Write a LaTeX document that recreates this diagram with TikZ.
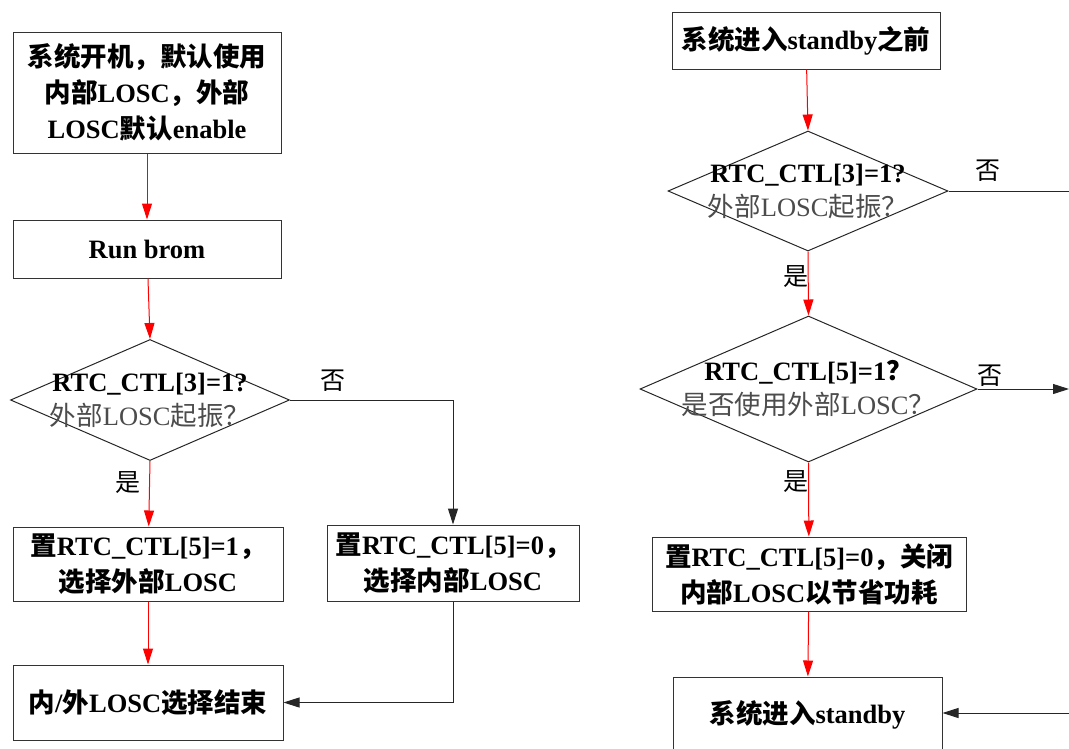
\documentclass[tikz,border=0pt]{standalone}
\usepackage{fontspec}
\setmainfont{Liberation Serif}
\newfontfamily\cjk{Noto Sans CJK SC}
\usetikzlibrary{shapes.geometric,arrows.meta,positioning}
\newcommand{\zh}[1]{{\cjk #1}}

\tikzset{
  box/.style={draw=black!80, line width=1pt, inner sep=0pt, align=center,
    font=\bfseries\fontsize{26.5}{36}\selectfont},
  dia/.style={diamond, draw=black!85, line width=1pt, inner sep=0pt},
  diatext/.style={align=center, inner sep=0pt, font=\fontsize{26.5}{34}\selectfont},
  yes/.style={draw=red, line width=1pt, -{Triangle[length=16pt,width=10pt]}},
  no/.style={draw=black!85, line width=1pt, -{Triangle[length=16pt,width=10pt]}},
  lbl/.style={font=\fontsize{25}{28}\selectfont\cjk, inner sep=0pt}
}

\begin{document}
\begin{tikzpicture}[x=1pt,y=-1pt]
\useasboundingbox (0,0) rectangle (1069,748);
\clip (0,0) rectangle (1069,748);

% left flow: power on, choose LOSC
\node[box, minimum width=268pt, minimum height=121pt] (boot) at (147,92.5)
  {\zh{系统开机，默认使用}\\ \zh{内部}LOSC\zh{，外部}\\ LOSC\zh{默认}enable};
\node[box, minimum width=268pt, minimum height=58pt] (brom) at (147,249) {Run brom};
\node[dia, minimum width=279pt, minimum height=121pt] (chkA) at (150,400) {};
\node[diatext] (chkAtxt) at (chkA.center)
  {\textbf{RTC\_CTL[3]=1?}\\ \color{black!70}\zh{外部}LOSC\zh{起振？}};
\node[box, minimum width=270pt, minimum height=74pt] (setext) at (148,564)
  {\zh{置}RTC\_CTL[5]=1\zh{，}\\ \zh{选择外部}LOSC};
\node[box, minimum width=252pt, minimum height=76pt] (setint) at (453,563)
  {\zh{置}RTC\_CTL[5]=0\zh{，}\\ \zh{选择内部}LOSC};
\node[box, minimum width=270pt, minimum height=75pt] (done) at (148,702.5)
  {\zh{内}/\zh{外}LOSC\zh{选择结束}};

\node[lbl] (noA) at (333,381) {否};
\node[lbl] (yesA) at (128,483) {是};

\draw[yes] (boot) -- (brom);
\draw[yes] (brom) -- (chkA.north);
\draw[yes] (chkA.south) -- (setext);
\draw[no] (chkA.east) -| (setint);
\draw[yes] (setext) -- (done);
\draw[no] (setint) |- (done);

% right flow: before standby
\node[box, minimum width=268pt, minimum height=57pt] (pre) at (806,40.5)
  {\zh{系统进入}standby\zh{之前}};
\node[dia, minimum width=280pt, minimum height=120pt] (chkB) at (808,191) {};
\node[diatext] (chkBtxt) at (chkB.center)
  {\textbf{RTC\_CTL[3]=1?}\\ \color{black!70}\zh{外部}LOSC\zh{起振？}};
\node[dia, minimum width=337pt, minimum height=146pt] (chkC) at (808.5,389) {};
\node[diatext] (chkCtxt) at (chkC.center)
  {\textbf{RTC\_CTL[5]=1\zh{？}}\\ \color{black!70}\zh{是否使用外部}LOSC\zh{？}};
\node[box, minimum width=314pt, minimum height=74pt] (offint) at (809,574)
  {\zh{置}RTC\_CTL[5]=0\zh{，关闭}\\ \zh{内部}LOSC\zh{以节省功耗}};
\node[box, minimum width=269pt, minimum height=75pt] (stby) at (807.5,714.5)
  {\zh{系统进入}standby};

\node[lbl] (noB) at (988,171) {否};
\node[lbl] (yesB) at (796,277) {是};
\node[lbl] (noC) at (990,376) {否};
\node[lbl] (yesC) at (796,482) {是};

% loose ends at the right border
\coordinate (outB) at (1069,191);
\coordinate (outC) at (1069,389);
\coordinate (inS) at (1069,713);

\draw[yes] (pre) -- (chkB.north);
\draw[yes] (chkB.south) -- (chkC.north);
\draw[no, -] (chkB.east) -- (outB);
\draw[no] (chkC.east) -- (outC);
\draw[yes] (chkC.south) -- (offint);
\draw[yes] (offint) -- (stby);
\draw[no] (inS) -- (stby.east |- inS);

\end{tikzpicture}
\end{document}
